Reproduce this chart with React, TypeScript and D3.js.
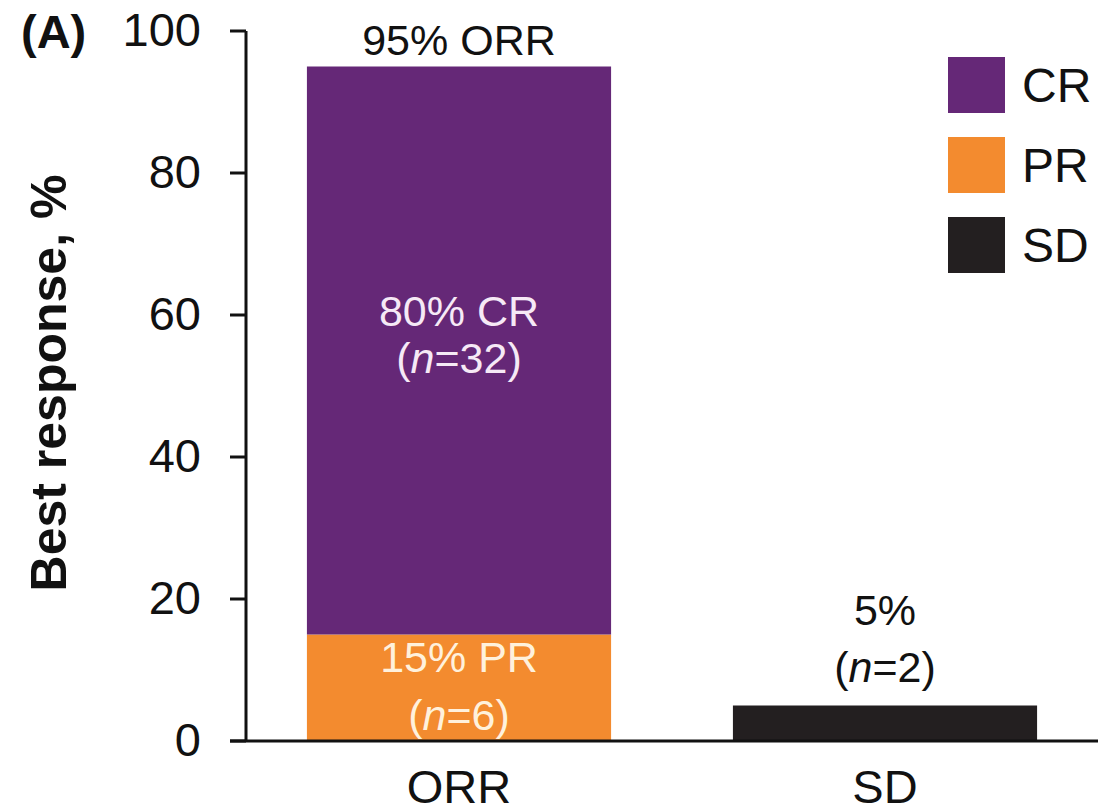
import React, { useEffect, useRef } from "react";
import * as d3 from "d3";

const categories = ["ORR", "SD"];
const seriesKeys = ["PR", "CR", "SD"];
const prValues = [15, 0];
const crValues = [80, 0];
const sdValues = [0, 5];
const yTicks = [0, 20, 40, 60, 80, 100];
const legendKeys = ["CR", "PR", "SD"];
const colors: Record<string, string> = { CR: "#652877", PR: "#F38B2F", SD: "#231F20" };
const totalLabels = ["95% ORR", ""];
const crLabel = ["80% CR", "32"];
const prLabel = ["15% PR", "6"];
const sdLabel = ["5%", "2"];

const W = 1117;
const H = 812;
const FONT = "Arial, 'Liberation Sans', Helvetica, sans-serif";

export default function App() {
  const ref = useRef<SVGSVGElement>(null);
  useEffect(() => {
    const svg = d3.select(ref.current);
    svg.selectAll("*").remove();
    const x0 = 246, x1 = 1098, yTop = 31, yBot = 741;
    const x = d3.scaleBand().domain(categories).range([x0, x1]).paddingInner(0.286).paddingOuter(0.143);
    const y = d3.scaleLinear().domain([0, 100]).range([yBot, yTop]);

    const table = categories.map((c, i) => ({ cat: c, PR: prValues[i], CR: crValues[i], SD: sdValues[i] }));
    const stack = d3.stack<any>().keys(seriesKeys)(table);

    stack.forEach((s) => {
      svg.append("g").selectAll("rect").data(s).join("rect")
        .attr("x", (d: any) => x(d.data.cat)!)
        .attr("width", x.bandwidth())
        .attr("y", (d: any) => y(d[1]))
        .attr("height", (d: any) => y(d[0]) - y(d[1]))
        .attr("fill", colors[s.key]);
    });

    // axes
    svg.append("line").attr("x1", x0).attr("x2", x0).attr("y1", yTop).attr("y2", yBot)
      .attr("stroke", "#111").attr("stroke-width", 3);
    svg.append("line").attr("x1", 230).attr("x2", x1).attr("y1", yBot).attr("y2", yBot)
      .attr("stroke", "#111").attr("stroke-width", 3);
    yTicks.forEach((t) => {
      svg.append("line").attr("x1", 230).attr("x2", x0).attr("y1", y(t)).attr("y2", y(t))
        .attr("stroke", "#111").attr("stroke-width", 3);
      svg.append("text").attr("x", 201).attr("y", y(t)).attr("dy", "0.32em")
        .attr("text-anchor", "end").attr("font-family", FONT).attr("font-size", 47)
        .attr("fill", "#111").text(t);
    });
    categories.forEach((c) => {
      svg.append("text").attr("x", x(c)! + x.bandwidth() / 2).attr("y", 803)
        .attr("text-anchor", "middle").attr("font-family", FONT).attr("font-size", 47)
        .attr("fill", "#111").text(c);
    });

    svg.append("text").attr("transform", "translate(66,383) rotate(-90)")
      .attr("text-anchor", "middle").attr("font-family", FONT).attr("font-size", 50)
      .attr("font-weight", "bold").attr("fill", "#111").text("Best response, %");

    svg.append("text").attr("x", 21).attr("y", 48).attr("font-family", FONT)
      .attr("font-size", 47).attr("font-weight", "bold").attr("fill", "#111").text("(A)");

    const cx = (c: string) => x(c)! + x.bandwidth() / 2;
    const nLabel = (g: any, n: string) => {
      g.append("tspan").text("(");
      g.append("tspan").attr("font-style", "italic").text("n");
      g.append("tspan").text("=" + n + ")");
    };

    // total label
    svg.append("text").attr("x", cx("ORR")).attr("y", 55).attr("text-anchor", "middle")
      .attr("font-family", FONT).attr("font-size", 43).attr("fill", "#111").text(totalLabels[0]);

    // CR label
    const crMid = y((prValues[0] + prValues[0] + crValues[0]) / 2);
    svg.append("text").attr("x", cx("ORR")).attr("y", crMid - 25).attr("text-anchor", "middle")
      .attr("font-family", FONT).attr("font-size", 43).attr("fill", "#f6e9f6").text(crLabel[0]);
    nLabel(svg.append("text").attr("x", cx("ORR")).attr("y", crMid + 22).attr("text-anchor", "middle")
      .attr("font-family", FONT).attr("font-size", 43).attr("fill", "#f6e9f6"), crLabel[1]);

    // PR label
    svg.append("text").attr("x", cx("ORR")).attr("y", 672).attr("text-anchor", "middle")
      .attr("font-family", FONT).attr("font-size", 43).attr("fill", "#fff1dc").text(prLabel[0]);
    nLabel(svg.append("text").attr("x", cx("ORR")).attr("y", 730).attr("text-anchor", "middle")
      .attr("font-family", FONT).attr("font-size", 43).attr("fill", "#fff1dc"), prLabel[1]);

    // SD label
    svg.append("text").attr("x", cx("SD")).attr("y", 625).attr("text-anchor", "middle")
      .attr("font-family", FONT).attr("font-size", 43).attr("fill", "#111").text(sdLabel[0]);
    nLabel(svg.append("text").attr("x", cx("SD")).attr("y", 682).attr("text-anchor", "middle")
      .attr("font-family", FONT).attr("font-size", 43).attr("fill", "#111"), sdLabel[1]);

    // legend
    legendKeys.forEach((k, i) => {
      const cy = 85 + i * 80;
      svg.append("rect").attr("x", 948).attr("y", cy - 28).attr("width", 57).attr("height", 56)
        .attr("fill", colors[k]);
      svg.append("text").attr("x", 1022).attr("y", cy).attr("dy", "0.36em")
        .attr("font-family", FONT).attr("font-size", 48).attr("fill", "#111").text(k);
    });
  }, []);
  return (
    <svg ref={ref} width={W} height={H}
      style={{ position: "absolute", left: 0, top: 0, background: "#fff" }} />
  );
}
